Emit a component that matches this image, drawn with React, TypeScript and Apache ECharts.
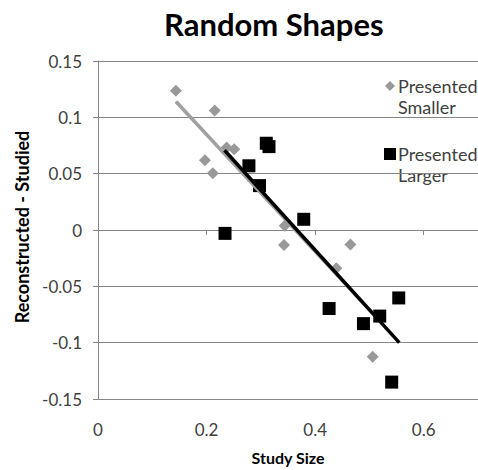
import React, { useEffect, useRef } from "react";
import * as echarts from "echarts";

const titleText = "Random Shapes";
const xName = "Study Size";
const yName = "Reconstructed - Studied";
const seriesNames = ["Presented\nSmaller", "Presented\nLarger"];

const smallerX = [0.1435, 0.215, 0.237, 0.251, 0.197, 0.2115, 0.344, 0.3426, 0.465, 0.439, 0.506];
const smallerY = [0.1236, 0.106, 0.0732, 0.0717, 0.062, 0.0503, 0.0037, -0.0134, -0.0128, -0.0339, -0.1125];
const largerX = [0.31, 0.315, 0.278, 0.2975, 0.234, 0.379, 0.4257, 0.489, 0.519, 0.554, 0.541];
const largerY = [0.077, 0.074, 0.057, 0.0394, -0.003, 0.0095, -0.0697, -0.0831, -0.0764, -0.0603, -0.135];

// Linear trendline end points
const smallerTrendX = [0.1435, 0.506];
const smallerTrendY = [0.114, -0.074];
const largerTrendX = [0.233, 0.555];
const largerTrendY = [0.0708, -0.0999];

function pairs(xs: number[], ys: number[]) {
  return xs.map((x, i) => [x, ys[i]]);
}

const FONT = "Lato, 'Open Sans', sans-serif";

export default function App() {
  const ref = useRef<HTMLDivElement>(null);
  useEffect(() => {
    document.body.style.margin = "0";
    if (!ref.current) return;
    const chart = echarts.init(ref.current, undefined, { renderer: "svg" });
    chart.setOption({
      animation: false,
      backgroundColor: "#ffffff",
      textStyle: { fontFamily: FONT },
      title: {
        text: titleText,
        left: 159,
        top: 3,
        textStyle: { fontFamily: FONT, fontWeight: "bold", fontSize: 31, color: "#000" },
      },
      grid: { left: 98, width: 388, top: 61, height: 341, containLabel: false },
      xAxis: {
        type: "value",
        min: 0,
        max: 0.7,
        interval: 0.2,
        name: xName,
        nameLocation: "middle",
        nameGap: 50,
        nameTextStyle: { fontFamily: FONT, fontWeight: "bold", fontSize: 16, color: "#000" },
        axisLine: { show: true, lineStyle: { color: "#868686", width: 1 } },
        axisTick: { show: true, length: 5, lineStyle: { color: "#868686" } },
        axisLabel: { fontSize: 17, color: "#404040", margin: 22, fontFamily: FONT, showMaxLabel: false },
        splitLine: { show: false },
      },
      yAxis: {
        type: "value",
        min: -0.15,
        max: 0.15,
        interval: 0.05,
        name: yName,
        nameLocation: "middle",
        nameGap: 66,
        nameTextStyle: {
          fontFamily: FONT,
          fontWeight: "bold",
          fontSize: 18,
          color: "#000",
          padding: [0, 0, 0, 6],
        },
        axisLine: { show: true, lineStyle: { color: "#868686", width: 1 } },
        axisTick: { show: true, length: 5, lineStyle: { color: "#868686" } },
        axisLabel: { fontSize: 17, color: "#404040", margin: 16, fontFamily: FONT },
        splitLine: { show: true, lineStyle: { color: "#868686", width: 1 } },
      },
      graphic: [
        {
          type: "polygon",
          shape: { points: [[390, 81], [395, 86], [390, 91], [385, 86]] },
          style: { fill: "#999999" },
        },
        {
          type: "text",
          x: 398,
          y: 75,
          style: {
            text: seriesNames[0],
            fontFamily: FONT,
            fontSize: 18,
            lineHeight: 21,
            fill: "#404040",
          },
        },
        {
          type: "rect",
          shape: { x: 384, y: 148, width: 12, height: 12 },
          style: { fill: "#000000" },
        },
        {
          type: "text",
          x: 398,
          y: 143,
          style: {
            text: seriesNames[1],
            fontFamily: FONT,
            fontSize: 18,
            lineHeight: 21,
            fill: "#404040",
          },
        },
      ],
      series: [
        {
          name: seriesNames[0],
          type: "scatter",
          symbol: "diamond",
          symbolSize: 12,
          itemStyle: { color: "#999999", opacity: 1 },
          data: pairs(smallerX, smallerY),
        },
        {
          name: seriesNames[1],
          type: "scatter",
          symbol: "rect",
          symbolSize: 13,
          itemStyle: { color: "#000000", opacity: 1 },
          data: pairs(largerX, largerY),
        },
        {
          type: "line",
          symbol: "none",
          lineStyle: { color: "#a0a0a0", width: 3.5 },
          data: pairs(smallerTrendX, smallerTrendY),
        },
        {
          type: "line",
          symbol: "none",
          lineStyle: { color: "#000000", width: 3.5 },
          data: pairs(largerTrendX, largerTrendY),
        },
      ],
    });
    return () => chart.dispose();
  }, []);
  return <div ref={ref} style={{ width: 478, height: 470 }} />;
}
